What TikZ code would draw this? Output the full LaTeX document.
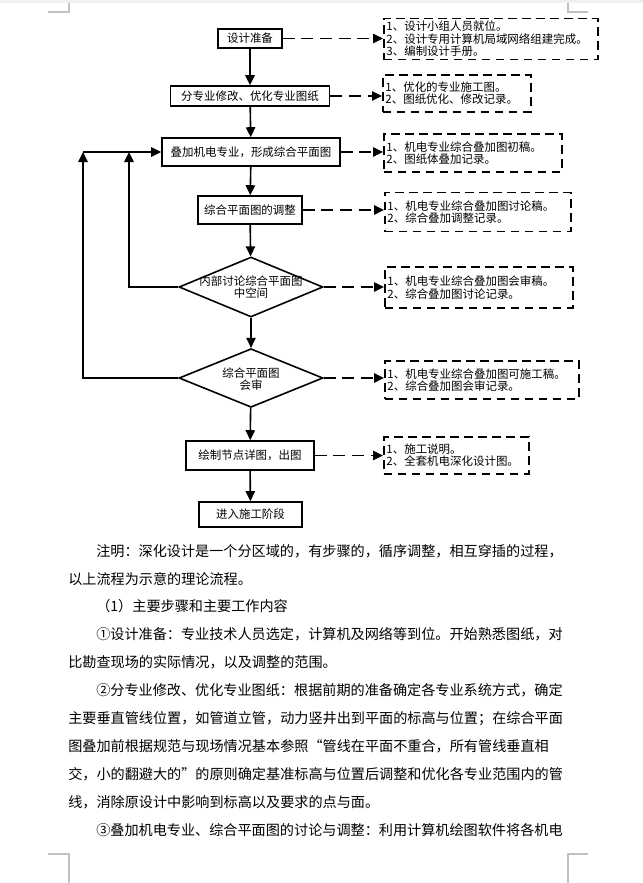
\documentclass[tikz,border=0pt]{standalone}
\usepackage{fontspec}
\setmainfont{Noto Sans CJK SC}
\usetikzlibrary{arrows.meta,shapes.geometric}
\newcommand\flowfont{\fontsize{8.6pt}{9pt}\selectfont}
\newcommand\notefont{\fontsize{8.6pt}{9.2pt}\selectfont}
\newcommand\bodyfont{\fontsize{10.6pt}{12pt}\selectfont}
\definecolor{markgray}{HTML}{C0C0C0}
\definecolor{stripgray}{HTML}{F0F0F0}
\tikzset{
  box/.style={draw, line width=1.2pt, font=\flowfont, inner sep=0pt, align=center},
  dia/.style={draw, diamond, line width=1.2pt, inner sep=0pt},
  dlabel/.style={font=\flowfont, align=center, inner sep=0pt},
  note/.style={draw, line width=1.2pt, dash pattern=on 6.5pt off 4pt, font=\notefont,
    align=left, inner xsep=2pt, inner ysep=0pt, anchor=west},
  arr/.style={-{Triangle[length=7.5pt,width=7pt]}, line width=1.2pt},
  darr/.style={arr, dash pattern=on 9pt off 5pt},
  body/.style={anchor=base west, inner sep=0pt, font=\bodyfont},
  cornermark/.style={draw=markgray, line width=0.8pt},
}
\begin{document}
\begin{tikzpicture}[x=0.75pt,y=-0.75pt]
\useasboundingbox (0,0) rectangle (643,883);
\fill[stripgray] (0,0) rectangle (643,3);
% corner marks
\draw[cornermark] (48,12) -- (69,12) -- (69,3);
\draw[cornermark] (588,12) -- (568,12) -- (568,3);
\draw[cornermark] (48,854) -- (69,854) -- (69,883);
\draw[cornermark] (588,854) -- (568,854) -- (568,883);

% main boxes
\node[box, minimum width=48pt, minimum height=14.25pt] (b1) at (250,38.5) {设计准备};
\node[box, minimum width=119.25pt, minimum height=15pt] (b2) at (250,96) {分专业修改、优化专业图纸};
\node[box, minimum width=133.5pt, minimum height=21pt] (b3) at (251,152) {叠加机电专业，形成综合平面图};
\node[box, minimum width=78pt, minimum height=21pt] (b4) at (250,210) {综合平面图的调整};
\node[dia, minimum width=108pt, minimum height=45pt] (d1) at (251,287) {};
\node[dlabel] (d1t) at (251,287) {内部讨论综合平面图\\中空间};
\node[dia, minimum width=108pt, minimum height=44pt] (d2) at (251,378) {};
\node[dlabel] (d2t) at (251,379) {综合平面图\\会审};
\node[box, minimum width=96pt, minimum height=21.75pt] (b5) at (250,455.5) {绘制节点详图，出图};
\node[box, minimum width=77.25pt, minimum height=18.75pt] (b6) at (250.5,514.5) {进入施工阶段};

% notes
\node[note, text width=156.5pt, minimum height=31pt, inner ysep=1.5pt] (n1) at (383,39) {\fontsize{8.6pt}{9.5pt}\selectfont 1、设计小组人员就位。\\2、设计专用计算机局域网络组建完成。\\3、编制设计手册。};
\node[note, text width=107pt, minimum height=27.75pt] (n2) at (382,93.5) {1、优化的专业施工图。\\2、图纸优化、修改记录。};
\node[note, text width=129.5pt, minimum height=28.5pt] (n3) at (383,153) {1、机电专业综合叠加图初稿。\\2、图纸体叠加记录。};
\node[note, text width=135.5pt, minimum height=29.25pt] (n4) at (384,212) {1、机电专业综合叠加图讨论稿。\\2、综合叠加调整记录。};
\node[note, text width=137pt, minimum height=30.75pt] (n5) at (384,287.5) {1、机电专业综合叠加图会审稿。\\2、综合叠加图讨论记录。};
\node[note, text width=141.5pt, minimum height=28.5pt] (n6) at (384,380) {1、机电专业综合叠加图可施工稿。\\2、综合叠加图会审记录。};
\node[note, text width=104.75pt, minimum height=27.75pt] (n7) at (383,455.5) {1、施工说明。\\2、全套机电深化设计图。};

% solid flow
\draw[arr] (b1) -- (b2);
\draw[arr] (b2) -- (b3);
\draw[arr] (b3) -- (b4);
\draw[arr] (b4) -- (d1);
\draw[arr] (d1) -- (d2);
\draw[arr] (d2) -- (b5);
\draw[arr] (b5) -- (b6);

% dashed links
\draw[darr] (b1.east) -- (b1.east -| n1.west);
\draw[darr] (b2.east) -- (b2.east -| n2.west);
\draw[darr] (b3.east) -- (b3.east -| n3.west);
\draw[darr] (b4.east) -- (b4.east -| n4.west);
\draw[darr] (d1.east) -- (d1.east -| n5.west);
\draw[darr] (d2.east) -- (d2.east -| n6.west);
\draw[darr] (b5.east) -- (b5.east -| n7.west);

% feedback loops
\coordinate (ci) at (129,152);
\coordinate (co) at (83,152);
\draw[arr] (d1.west) -| (ci);
\draw[arr] (d2.west) -| (co);
\draw[arr] (co) -- (b3.west);

% body text
\node[body] (t1) at (96,556.4) {注明：深化设计是一个分区域的，有步骤的，循序调整，相互穿插的过程，};
\node[body] (t2) at (68,584.4) {以上流程为示意的理论流程。};
\node[body] (t3) at (96,611.4) {（1）主要步骤和主要工作内容};
\node[body] (t4) at (96,639.4) {①设计准备：专业技术人员选定，计算机及网络等到位。开始熟悉图纸，对};
\node[body] (t5) at (68,667.4) {比勘查现场的实际情况，以及调整的范围。};
\node[body] (t6) at (96,695.4) {②分专业修改、优化专业图纸：根据前期的准备确定各专业系统方式，确定};
\node[body] (t7) at (68,723.4) {主要垂直管线位置，如管道立管，动力竖井出到平面的标高与位置；在综合平面};
\node[body] (t8) at (68,751.4) {图叠加前根据规范与现场情况基本参照“管线在平面不重合，所有管线垂直相};
\node[body] (t9) at (68,779.4) {交，小的翻避大的”的原则确定基准标高与位置后调整和优化各专业范围内的管};
\node[body] (t10) at (68,807.4) {线，消除原设计中影响到标高以及要求的点与面。};
\node[body] (t11) at (96,835.4) {③叠加机电专业、综合平面图的讨论与调整：利用计算机绘图软件将各机电};
\end{tikzpicture}
\end{document}
